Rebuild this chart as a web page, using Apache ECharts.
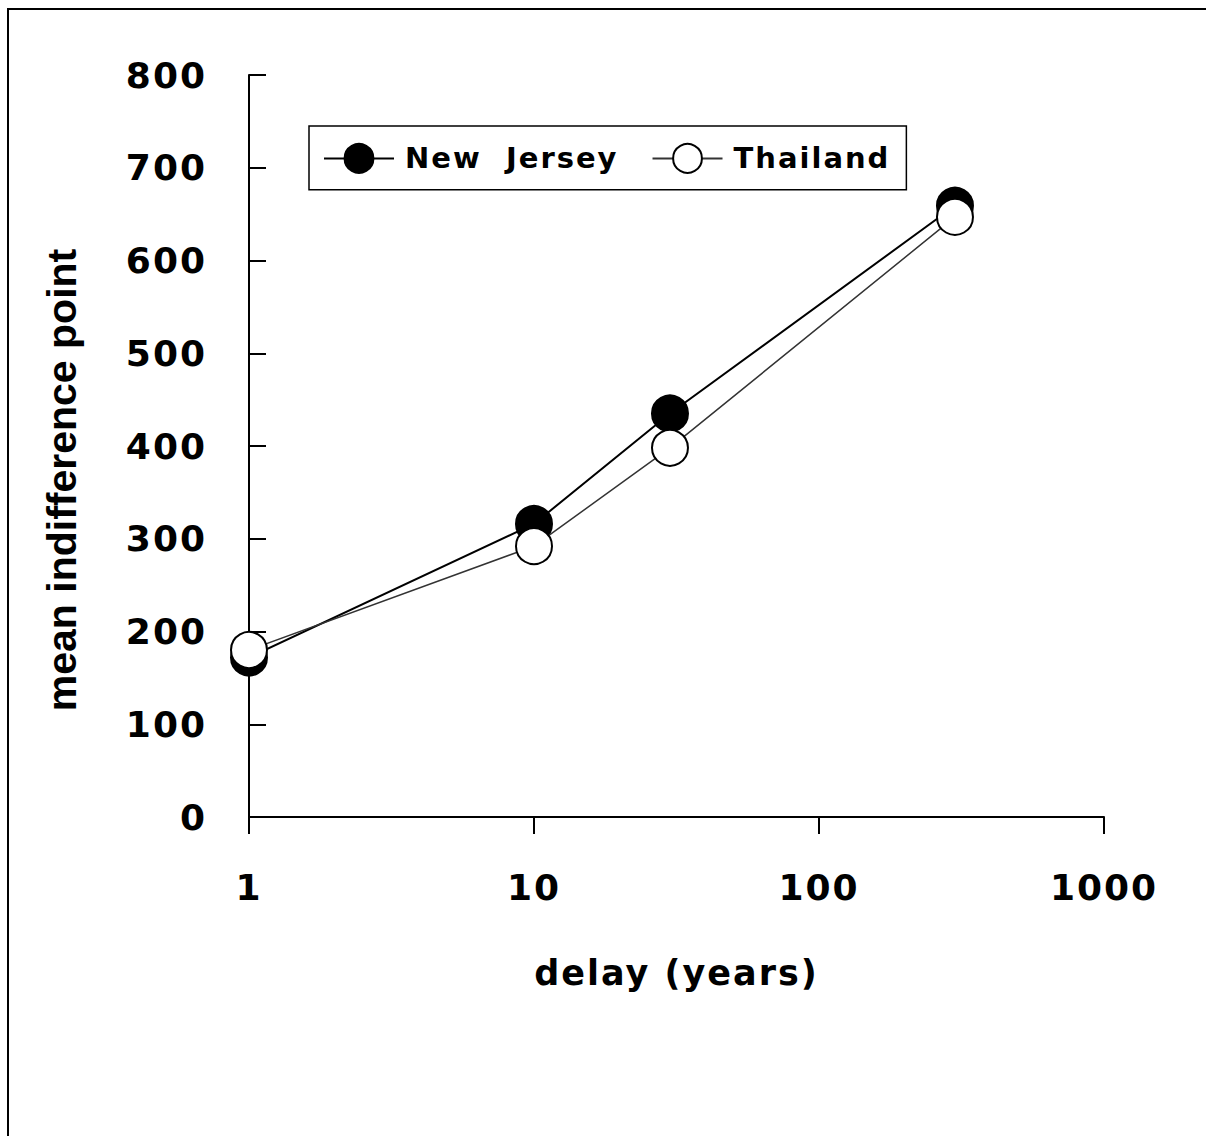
<!DOCTYPE html>
<html>
<head>
<meta charset="utf-8">
<script src="https://cdn.jsdelivr.net/npm/echarts@6/dist/echarts.min.js"></script>
<style>
  html, body { margin: 0; padding: 0; background: #fff; }
  #main { width: 1206px; height: 1136px; }
  /* the original figure uses spaced-out lettering, except the y axis title */
  #main text[style*="DejaVu"] { letter-spacing: 2px; }
</style>
</head>
<body>
<div id="main"></div>
<script>
// delay in years (log axis)
const delays = [1, 10, 30, 300];
const newJersey = [172, 316, 435, 659];
const thailand = [180, 292, 398, 647];
const seriesNames = ['New Jersey', 'Thailand'];
const yTicks = { min: 0, max: 800, interval: 100 };

const font = 'DejaVu Sans';

let option = {
  animation: false,
  backgroundColor: '#fff',
  graphic: [
    {
      // outer frame: only the top and left edges fall inside the picture
      type: 'polyline',
      shape: { points: [[8, 1300], [8, 9], [1400, 9]] },
      style: { fill: 'none', stroke: '#000', lineWidth: 2 },
      silent: true
    }
  ],
  grid: {
    left: 249,
    right: 102,
    top: 75,
    bottom: 319
  },
  legend: {
    left: 309,
    top: 126,
    padding: [17, 32, 16, 14],
    borderColor: '#000',
    borderWidth: 1.5,
    itemWidth: 70,
    itemHeight: 36,
    itemGap: 55,
    data: seriesNames,
    // wider gap between the words, as in the original
    formatter: name => name.replace(' ', '\u00a0 '),
    textStyle: {
      fontFamily: font,
      fontWeight: 'bold',
      fontSize: 29,
      color: '#000',
      padding: [0, 0, 0, 6]
    }
  },
  xAxis: {
    type: 'log',
    logBase: 10,
    min: 1,
    max: 1000,
    name: 'delay (years)',
    nameLocation: 'middle',
    nameGap: 138,
    nameTextStyle: {
      fontFamily: font,
      fontWeight: 'bold',
      fontSize: 35,
      color: '#000'
    },
    axisLine: { lineStyle: { color: '#000', width: 2 } },
    axisTick: { length: 17, lineStyle: { color: '#000', width: 2 } },
    minorTick: { show: false },
    splitLine: { show: false },
    axisLabel: {
      margin: 52,
      fontFamily: font,
      fontWeight: 'bold',
      fontSize: 36,
      color: '#000',
      formatter: v => String(v)
    }
  },
  yAxis: {
    type: 'value',
    min: yTicks.min,
    max: yTicks.max,
    interval: yTicks.interval,
    name: 'mean indifference point',
    nameLocation: 'middle',
    nameGap: 167,
    nameTextStyle: {
      fontFamily: 'Liberation Sans',
      fontWeight: 'bold',
      fontSize: 41,
      color: '#000',
      padding: [0, 68, 0, 0]
    },
    axisLine: { show: true, lineStyle: { color: '#000', width: 2 } },
    axisTick: { show: true, inside: true, length: 17, lineStyle: { color: '#000', width: 2 } },
    splitLine: { show: false },
    axisLabel: {
      margin: 42,
      fontFamily: font,
      fontWeight: 'bold',
      fontSize: 36,
      color: '#000',
      padding: [0, 0, 10, 0]
    }
  },
  series: [
    {
      name: seriesNames[0],
      type: 'line',
      data: delays.map((d, i) => [d, newJersey[i]]),
      symbol: 'circle',
      symbolSize: 36,
      z: 2,
      lineStyle: { color: '#000', width: 2 },
      itemStyle: { color: '#000', borderColor: '#000', borderWidth: 2 }
    },
    {
      name: seriesNames[1],
      type: 'line',
      data: delays.map((d, i) => [d, thailand[i]]),
      symbol: 'circle',
      symbolSize: 36,
      z: 3,
      lineStyle: { color: '#333', width: 1.5 },
      itemStyle: { color: '#fff', borderColor: '#000', borderWidth: 2 }
    }
  ]
};

let myChart = echarts.init(document.getElementById('main'), null, { renderer: 'svg' });
myChart.setOption(option);
</script>
</body>
</html>
